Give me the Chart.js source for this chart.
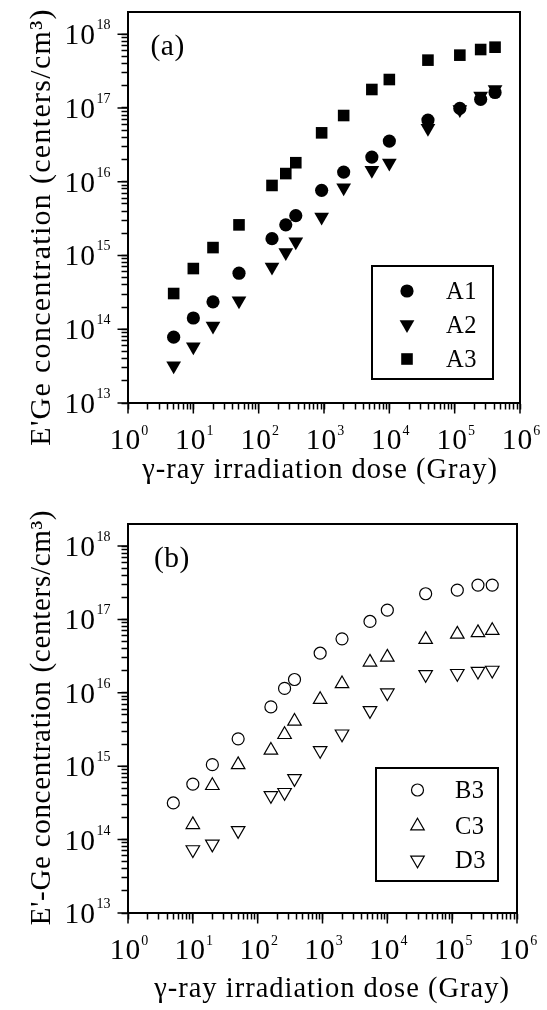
<!DOCTYPE html>
<html>
<head>
<meta charset="utf-8">
<title>E'Ge concentration vs dose</title>
<script src="https://cdn.jsdelivr.net/npm/chart.js@4.4.1/dist/chart.umd.min.js"></script>
<style>
  html, body { margin: 0; padding: 0; background: #fff; }
  canvas { display: block; }
</style>
</head>
<body>
<canvas id="panelA" width="547" height="500"></canvas>
<canvas id="panelB" width="547" height="510"></canvas>
<script>
// gamma dose in Gray, shared by every sample
const doses = [5, 10, 20, 50, 160, 260, 370, 920, 2000, 5400, 10000, 39000, 120000, 250000, 415000];

// panel (a), centers/cm3
const a1Values = [7.8e13, 1.42e14, 2.35e14, 5.75e14, 1.69e15, 2.6e15, 3.47e15, 7.65e15, 1.35e16, 2.16e16, 3.56e16, 6.85e16, 9.85e16, 1.31e17, 1.62e17];
const a2Values = [3.2e13, 5.8e13, 1.11e14, 2.43e14, 7.0e14, 1.1e15, 1.53e15, 3.33e15, 8.3e15, 1.43e16, 1.79e16, 5.3e16, 9.5e16, 1.45e17, 1.78e17];
const a3Values = [3.05e14, 6.65e14, 1.28e15, 2.6e15, 8.9e15, 1.29e16, 1.81e16, 4.6e16, 7.9e16, 1.78e17, 2.43e17, 4.45e17, 5.2e17, 6.2e17, 6.67e17];

// panel (b), C3 and D3 have no point at 5 Gy
const b3Values = [3.16e14, 5.7e14, 1.05e15, 2.36e15, 6.44e15, 1.15e16, 1.52e16, 3.47e16, 5.45e16, 9.4e16, 1.34e17, 2.24e17, 2.51e17, 2.94e17, 2.94e17];
const c3Values = [null, 1.6e14, 5.45e14, 1.05e15, 1.65e15, 2.7e15, 4.1e15, 8.1e15, 1.33e16, 2.62e16, 3.06e16, 5.34e16, 6.3e16, 6.6e16, 7.08e16];
const d3Values = [null, 7.3e13, 8.7e13, 1.33e14, 4.0e14, 4.4e14, 6.8e14, 1.64e15, 2.76e15, 5.74e15, 1.0e16, 1.78e16, 1.84e16, 1.97e16, 2.04e16];

// decade labels, drawn as 10^n
const xTickPowers = [0, 1, 2, 3, 4, 5, 6];
const yTickPowers = [13, 14, 15, 16, 17, 18];

const SERIF = '"Liberation Serif", "Times New Roman", serif';

function points(values) {
  return doses.map((d, i) => ({ x: d, y: values[i] })).filter((p) => p.y !== null);
}

// keep 1..9 x 10^n only (Chart.js also adds 1.5 steps), nothing above the last decade
function decadeTicks(top) {
  return (scale) => {
    scale.ticks = scale.ticks.filter((t) => {
      const m = t.value / Math.pow(10, Math.floor(Math.log10(t.value) + 1e-9));
      return Math.abs(m - Math.round(m)) < 1e-6 && t.value <= top * 1.0001;
    });
  };
}

function text(ctx, str, x, y, size, spacing, align) {
  ctx.font = `${size}px ${SERIF}`;
  ctx.letterSpacing = `${spacing || 0}px`;
  ctx.textAlign = align || "left";
  ctx.fillText(str, x, y);
  return ctx.measureText(str).width;
}

function width(ctx, str, size, spacing) {
  ctx.font = `${size}px ${SERIF}`;
  ctx.letterSpacing = `${spacing || 0}px`;
  return ctx.measureText(str).width;
}

// frame, long decade ticks, 10^n labels, titles and the boxed legend
const figurePlugin = {
  id: "figure",
  afterDraw(chart, args, o) {
    const { ctx, chartArea: area } = chart;
    const xs = chart.scales.x;
    const ys = chart.scales.y;
    ctx.save();
    ctx.fillStyle = "#000";
    ctx.strokeStyle = "#000";
    ctx.textBaseline = "alphabetic";

    ctx.lineWidth = 2;
    ctx.strokeRect(area.left, area.top, area.right - area.left, area.bottom - area.top);

    ctx.lineWidth = 1.5;
    ctx.beginPath();
    xTickPowers.forEach((p) => {
      const x = xs.getPixelForValue(Math.pow(10, p));
      ctx.moveTo(x, area.bottom);
      ctx.lineTo(x, area.bottom + 10.5);
    });
    yTickPowers.forEach((p) => {
      const y = ys.getPixelForValue(Math.pow(10, p));
      ctx.moveTo(area.left, y);
      ctx.lineTo(area.left - 10.5, y);
    });
    ctx.stroke();

    // y labels: exponent ends a little left of the long tick
    yTickPowers.forEach((p) => {
      const y = ys.getPixelForValue(Math.pow(10, p));
      const supRight = area.left - 17.5;
      const supW = text(ctx, String(p), supRight, y - 5, 14, 0, "right");
      text(ctx, "10", supRight - supW - 0.5, y + 10, 29.5, 1, "right");
    });

    // x labels: whole 10^n centred under its tick
    xTickPowers.forEach((p) => {
      const x = xs.getPixelForValue(Math.pow(10, p));
      const w10 = width(ctx, "10", 29.5, 1);
      const supW = width(ctx, String(p), 14, 0);
      const left = x - (w10 + supW) / 2 + 1;
      text(ctx, "10", left, area.bottom + 46, 29.5, 1);
      text(ctx, String(p), left + w10, area.bottom + 32, 14, 0);
    });

    text(ctx, o.xTitle, o.xTitleAt[0], o.xTitleAt[1], 28.5, 1, "center");

    ctx.save();
    ctx.translate(o.yTitleAt[0], o.yTitleAt[1]);
    ctx.rotate(-Math.PI / 2);
    text(ctx, o.yTitle, 0, 0, o.yTitleSize, o.yTitleSpacing, "center");
    ctx.restore();

    text(ctx, o.panel, o.panelAt[0], o.panelAt[1], 29.5, 0.5);

    // legend
    const [bx, by, bw, bh] = o.legendBox;
    ctx.lineWidth = 2;
    ctx.strokeRect(bx, by, bw, bh);
    chart.data.datasets.forEach((ds, i) => {
      const y = o.legendRows[i];
      ctx.fillStyle = ds.pointBackgroundColor;
      ctx.strokeStyle = ds.pointBorderColor;
      ctx.lineWidth = ds.pointBorderWidth;
      Chart.helpers.drawPoint(ctx, {
        pointStyle: ds.pointStyle,
        radius: ds.pointRadius,
        rotation: ds.pointRotation || 0,
        borderWidth: ds.pointBorderWidth,
      }, o.legendMarkerX, y);
      ctx.fillStyle = "#000";
      text(ctx, ds.label, o.legendTextX, y + 8, 24.5, 0.5);
    });
    ctx.restore();
  },
};

function dataset(label, values, style, radius, filled, rotation) {
  return {
    label: label,
    data: points(values),
    showLine: false,
    pointStyle: style,
    pointRadius: radius,
    pointHoverRadius: radius,
    pointRotation: rotation || 0,
    pointBackgroundColor: filled ? "#000" : "rgba(0,0,0,0)",
    pointBorderColor: "#000",
    pointBorderWidth: filled ? 0 : 1.2,
  };
}

function logAxis(min, max, afterFit) {
  return {
    type: "logarithmic",
    min: min,
    max: max,
    ticks: { display: false },
    grid: {
      display: true,
      drawOnChartArea: false,
      drawTicks: true,
      tickLength: 6.5,
      tickColor: "#000",
      tickWidth: 1.5,
    },
    border: { display: true, color: "#000", width: 2 },
    afterBuildTicks: decadeTicks(max > 1e17 ? 1e18 : max),
    afterFit: afterFit,
  };
}

function buildPanel(id, datasets, frame, labels) {
  const canvas = document.getElementById(id);
  return new Chart(canvas.getContext("2d"), {
    type: "scatter",
    data: { datasets: datasets },
    options: {
      responsive: false,
      animation: false,
      events: [],
      layout: {
        padding: { left: 0, top: frame.top, right: canvas.width - frame.right, bottom: 0 },
      },
      scales: {
        x: logAxis(1, 1e6, (s) => { s.height = canvas.height - frame.bottom; }),
        y: logAxis(1e13, 2e18, (s) => { s.width = frame.left; }),
      },
      plugins: {
        legend: { display: false },
        tooltip: { enabled: false },
        figure: labels,
      },
    },
    plugins: [figurePlugin],
  });
}

buildPanel("panelA", [
  dataset("A1", a1Values, "circle", 6.6, true),
  dataset("A2", a2Values, "triangle", 8.5, true, 180),
  dataset("A3", a3Values, "rect", 8.2, true),
], { left: 128, right: 520, top: 12, bottom: 403 }, {
  xTitle: "\u03b3-ray irradiation dose (Gray)",
  xTitleAt: [320, 478],
  yTitle: "E'Ge concentration (centers/cm\u00b3)",
  yTitleAt: [50, 227],
  yTitleSize: 30,
  yTitleSpacing: 1.3,
  panel: "(a)",
  panelAt: [150.5, 55],
  legendBox: [372, 266, 121, 113],
  legendRows: [291, 324.5, 359],
  legendMarkerX: 407,
  legendTextX: 446,
});

buildPanel("panelB", [
  dataset("B3", b3Values, "circle", 6, false),
  dataset("C3", c3Values, "triangle", 7.8, false),
  dataset("D3", d3Values, "triangle", 7.8, false, 180),
], { left: 128, right: 517, top: 24, bottom: 413 }, {
  xTitle: "\u03b3-ray irradiation dose (Gray)",
  xTitleAt: [332, 497],
  yTitle: "E'-Ge concentration (centers/cm\u00b3)",
  yTitleAt: [49.5, 217.5],
  yTitleSize: 29,
  yTitleSpacing: 0.7,
  panel: "(b)",
  panelAt: [154, 66.5],
  legendBox: [376, 268, 122, 113],
  legendRows: [290, 326, 360],
  legendMarkerX: 417.5,
  legendTextX: 455,
});
</script>
</body>
</html>
